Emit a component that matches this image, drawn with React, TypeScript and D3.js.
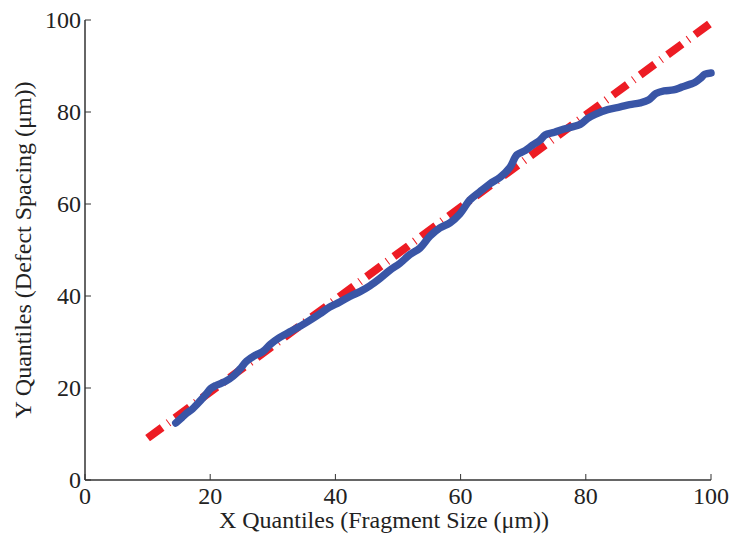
import React from 'react';
import * as d3 from 'd3';

// quantile pairs
const qx = [14.5, 15.5, 16.3, 17.2, 18.4, 19.3, 20.1, 21.0, 22.4, 23.6, 24.8, 25.8, 27.2, 28.4, 29.6, 31.0, 32.7, 34.2, 35.9, 37.5, 39.1, 40.6, 42.3, 44.0, 45.5, 47.1, 48.7, 50.3, 51.9, 53.5, 55.1, 56.7, 58.3, 59.9, 61.5, 63.1, 64.7, 66.3, 67.9, 69.0, 70.3, 71.5, 72.7, 73.5, 75.0, 76.5, 78.0, 79.1, 80.3, 81.5, 83.5, 85.5, 87.0, 88.7, 90.0, 91.2, 92.5, 94.0, 95.3, 96.6, 97.4, 98.3, 99.0, 100];
const qy = [12.4, 13.6, 14.6, 15.5, 17.2, 18.6, 19.9, 20.6, 21.4, 22.5, 24.2, 25.8, 27.1, 27.9, 29.5, 30.9, 32.2, 33.3, 34.7, 36.1, 37.6, 38.6, 39.9, 41.0, 42.2, 43.8, 45.6, 47.1, 49.0, 50.4, 53.0, 54.8, 55.9, 57.9, 60.9, 62.7, 64.4, 65.8, 68.0, 70.7, 71.6, 72.8, 73.9, 75.0, 75.6, 76.3, 76.8, 77.3, 78.6, 79.5, 80.5, 81.1, 81.6, 82.0, 82.6, 84.0, 84.6, 84.8, 85.4, 86.0, 86.4, 87.3, 88.2, 88.5];

// reference line drawn through the first and last quartiles
const refX = [10, 100];
const refY = [9.1, 99.4];

const xTicks = [0, 20, 40, 60, 80, 100];
const yTicks = [0, 20, 40, 60, 80, 100];

const W = 733, H = 538;
const margin = { left: 85, right: 22, top: 20, bottom: 58 };

export default function App() {
  const x = d3.scaleLinear().domain([0, 100]).range([margin.left, W - margin.right]);
  const y = d3.scaleLinear().domain([0, 100]).range([H - margin.bottom, margin.top]);

  const line = d3.line<[number, number]>().x(d => x(d[0])).y(d => y(d[1])).curve(d3.curveCatmullRom);
  const blue = line(qx.map((v, i) => [v, qy[i]]))!;
  const red = d3.line<[number, number]>().x(d => x(d[0])).y(d => y(d[1]))(refX.map((v, i) => [v, refY[i]]))!;

  const axisColor = '#333';
  const txt: React.CSSProperties = { fontFamily: "'Liberation Serif', 'Times New Roman', 'DejaVu Serif', serif", fontSize: 24, fill: '#222' };
  const x0 = x(0), y0 = y(0);

  return (
    <svg width={W} height={H} style={{ position: 'absolute', left: 0, top: 0 }}>
      <rect width={W} height={H} fill="#fff" />
      <path d={red} fill="none" stroke="#ed1c24" strokeWidth={8} strokeDasharray="18,7.5,1,7.5" />
      <path d={blue} fill="none" stroke="#3955a6" strokeWidth={7.5} strokeLinejoin="round" strokeLinecap="round" />

      <line x1={x0} x2={x(100)} y1={y0} y2={y0} stroke={axisColor} strokeWidth={1.5} />
      <line x1={x0} x2={x0} y1={y0} y2={y(100)} stroke={axisColor} strokeWidth={1.5} />
      {xTicks.map(t => (
        <g key={'x' + t}>
          <line x1={x(t)} x2={x(t)} y1={y0} y2={y0 - 6} stroke={axisColor} strokeWidth={1} />
          <text x={x(t)} y={504} textAnchor="middle" style={txt}>{t}</text>
        </g>
      ))}
      {yTicks.map(t => (
        <g key={'y' + t}>
          <line x1={x0} x2={x0 + 6} y1={y(t)} y2={y(t)} stroke={axisColor} strokeWidth={1} />
          <text x={x0 - 4} y={y(t) + 8} textAnchor="end" style={txt}>{t}</text>
        </g>
      ))}
      <text x={384} y={528} textAnchor="middle" style={txt}>X Quantiles (Fragment Size (μm))</text>
      <text transform={`translate(31,${250}) rotate(-90)`} textAnchor="middle" style={txt}>Y Quantiles (Defect Spacing (μm))</text>
    </svg>
  );
}
